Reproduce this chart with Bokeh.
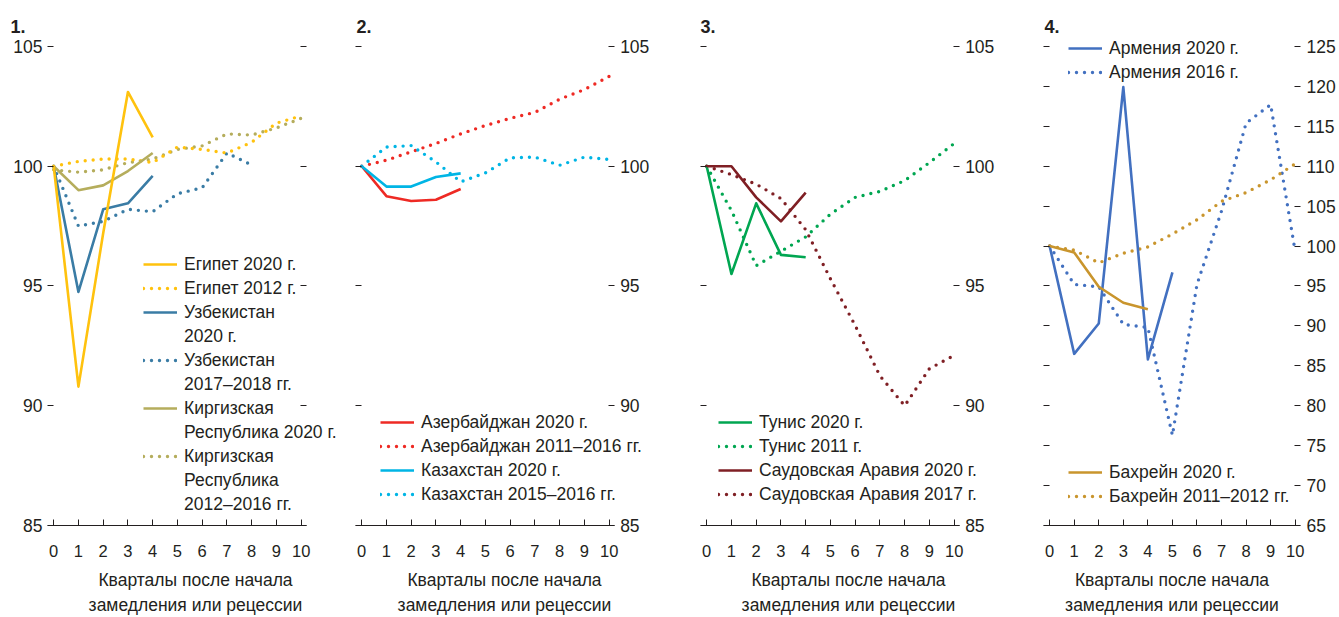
from bokeh.plotting import figure
from bokeh.models import Range1d, LinearAxis, FixedTicker, Legend, LegendItem
from bokeh.layouts import row
from bokeh.embed import file_html
from bokeh.resources import INLINE

# ---------------- data ----------------
quarters = list(range(11))

egypt_2020 = [100, 90.8, 97.2, 103.1, 101.2]
egypt_2012 = [100, 100.2, 100.3, 100.3, 100.15, 100.8, 100.7, 100.55, 101.0, 101.8, 102.1]
uzb_2020 = [100, 94.75, 98.2, 98.45, 99.6]
uzb_2017 = [100, 97.5, 97.7, 98.2, 98.1, 98.85, 99.1, 100.55, 100.05]
kgz_2020 = [100, 99.0, 99.2, 99.8, 100.55]
kgz_2012 = [99.85, 99.75, 99.85, 100.15, 100.3, 100.7, 100.85, 101.35, 101.3, 101.6, 102.0]

aze_2020 = [100, 98.75, 98.55, 98.6, 99.05]
aze_2011 = [100, 100.25, 100.6, 100.95, 101.35, 101.7, 102.0, 102.25, 102.8, 103.2, 103.75]
kaz_2020 = [100, 99.15, 99.15, 99.55, 99.7]
kaz_2015 = [100, 100.8, 100.86, 100.18, 99.35, 99.72, 100.35, 100.38, 100.04, 100.38, 100.28]

tun_2020 = [100, 95.5, 98.45, 96.3, 96.2]
tun_2011 = [100, 98.15, 95.85, 96.45, 97.05, 98.0, 98.7, 98.95, 99.4, 100.15, 100.95]
sau_2020 = [100, 100, 98.7, 97.7, 98.9]
sau_2017 = [100, 99.65, 99.25, 98.65, 97.35, 95.3, 93.35, 91.25, 90.0, 91.55, 92.1]

arm_2020 = [100, 86.5, 90.3, 119.9, 85.8, 96.7]
arm_2016 = [100, 95.2, 94.9, 90.2, 89.8, 76.3, 95.2, 104.4, 115.4, 117.7, 99.3]
bah_2020 = [100, 99.2, 94.9, 92.9, 92.1]
bah_2011 = [100, 99.5, 97.9, 99.1, 99.9, 101.5, 103.3, 105.6, 106.7, 108.3, 110.3]

x_ticks = list(range(11))
y_ticks_main = [85, 90, 95, 100, 105]
y_ticks_p4 = [65, 70, 75, 80, 85, 90, 95, 100, 105, 110, 115, 120, 125]

x_title = "Кварталы после начала\nзамедления или рецессии"

# ---------------- style ----------------
FONT = "Liberation Sans"
TXT = "#231F20"
FS = "17.5px"
FS_X = "16.5px"

X0 = -0.25        # left end of the x axis
X1 = 10.2         # right end of the x axis
PX = 24.75        # pixels per quarter
AXIS_TOP = 46     # page y of the highest y tick
AXIS_H = 481      # pixels between the lowest and the highest y tick
E_TOP = 14        # spare pixels above the top tick
E_BOT = 7         # spare pixels below the bottom tick
H = 617
ROW = 24          # legend row pitch

C_EGY = "#FFC20E"
C_UZB = "#3A7CA5"
C_KGZ = "#B5AD5C"
C_AZE = "#EE2A24"
C_KAZ = "#00B5E5"
C_TUN = "#00A651"
C_SAU = "#7F1F24"
C_ARM = "#4270C0"
C_BAH = "#C9952D"


def style_yaxis(ax, ticks, show_labels, standoff):
    ax.ticker = FixedTicker(ticks=ticks)
    ax.axis_line_color = None
    ax.major_tick_in = 6
    ax.major_tick_out = 0
    ax.major_tick_line_color = TXT
    ax.minor_tick_line_color = None
    ax.major_label_text_font = FONT
    ax.major_label_text_font_size = FS
    ax.major_label_text_color = TXT
    ax.major_label_standoff = standoff
    if not show_labels:
        ax.major_label_overrides = {t: "" for t in ticks}


def make_panel(title, width, bl, br, ymin, ymax, yticks, labels_left,
               title_offset, right_fixed=True):
    fw = width - bl - br
    ppu = AXIS_H / (ymax - ymin)
    top_border = AXIS_TOP - E_TOP
    bottom_border = H - top_border - (AXIS_H + E_TOP + E_BOT)
    p = figure(width=width, height=H,
               x_range=Range1d(X0, X0 + fw / PX),
               y_range=Range1d(ymin - E_BOT / ppu, ymax + E_TOP / ppu),
               output_backend="svg", toolbar_location=None,
               min_border_left=bl, min_border_right=br,
               min_border_top=top_border, min_border_bottom=bottom_border)
    p.outline_line_color = None
    p.grid.visible = False
    p.background_fill_color = "white"
    p.border_fill_color = "white"
    p.title.text = title
    p.title.text_font = FONT
    p.title.text_font_size = "18px"
    p.title.text_font_style = "bold"
    p.title.text_color = TXT
    p.title.align = "left"
    p.title.offset = title_offset
    p.title.standoff = 0

    # axis carrying the tick labels and the title (at the frame bottom)
    xa = p.xaxis[0]
    xa.ticker = FixedTicker(ticks=x_ticks)
    xa.axis_line_color = None
    xa.major_tick_line_color = None
    xa.minor_tick_line_color = None
    xa.major_label_text_font = FONT
    xa.major_label_text_font_size = FS_X
    xa.major_label_text_color = TXT
    xa.major_label_standoff = 6
    xa.axis_label = x_title
    xa.axis_label_text_font = FONT
    xa.axis_label_text_font_size = FS
    xa.axis_label_text_font_style = "normal"
    xa.axis_label_text_color = TXT
    xa.axis_label_text_line_height = 1.25
    xa.axis_label_standoff = 10

    # axis line and tick marks at the lowest y value
    xl = LinearAxis(fixed_location=ymin, bounds=(X0, X1),
                    ticker=FixedTicker(ticks=x_ticks))
    xl.axis_line_color = TXT
    xl.axis_line_width = 1
    xl.major_tick_in = 6
    xl.major_tick_out = 0
    xl.major_tick_line_color = TXT
    xl.minor_tick_line_color = None
    xl.major_label_overrides = {t: "" for t in x_ticks}
    xl.major_label_standoff = 0
    xl.major_label_text_font_size = "1px"
    p.add_layout(xl, "below")

    style_yaxis(p.yaxis[0], yticks, labels_left, 5)
    if right_fixed:
        ra = LinearAxis(fixed_location=X1)
    else:
        ra = LinearAxis()
    p.add_layout(ra, "right")
    style_yaxis(ra, yticks, not labels_left, 6)
    return p


def solid(p, xs, ys, color):
    return p.line(xs, ys, line_color=color, line_width=2.6, line_join="round")


def dotted(p, xs, ys, color):
    return p.line(xs, ys, line_color=color, line_width=3.4, line_dash="0 8",
                  line_cap="round", line_join="round")


def add_legend(p, entries, vx, first_row_y):
    items = []
    for label, rend in entries:
        lines = label.split("\n")
        items.append(LegendItem(label=lines[0], renderers=[rend]))
        for extra in lines[1:]:
            dummy = p.line(x=[], y=[], line_alpha=0)
            items.append(LegendItem(label=extra, renderers=[dummy]))
    top = first_row_y + 1.5 - ROW / 2
    bottom = top + ROW * len(items)
    frame_bottom = AXIS_TOP + AXIS_H + E_BOT
    lg = Legend(items=items, location=(vx, round(frame_bottom - bottom)))
    lg.label_text_font = FONT
    lg.label_text_font_size = FS
    lg.label_text_color = TXT
    lg.label_text_line_height = 1.0
    lg.label_height = ROW
    lg.glyph_height = ROW
    lg.glyph_width = 34
    lg.label_standoff = 7
    lg.spacing = 0
    lg.padding = 0
    lg.margin = 0
    lg.border_line_color = None
    lg.background_fill_alpha = 0
    p.add_layout(lg)
    return lg


# ---------------- panel 1 ----------------
p1 = make_panel("1.", 348, 47, 5, 85, 105, y_ticks_main, True, -37)
r_uzb17 = dotted(p1, quarters[:len(uzb_2017)], uzb_2017, C_UZB)
r_kgz12 = dotted(p1, quarters, kgz_2012, C_KGZ)
r_egy12 = dotted(p1, quarters, egypt_2012, C_EGY)
r_uzb20 = solid(p1, quarters[:len(uzb_2020)], uzb_2020, C_UZB)
r_kgz20 = solid(p1, quarters[:len(kgz_2020)], kgz_2020, C_KGZ)
r_egy20 = solid(p1, quarters[:len(egypt_2020)], egypt_2020, C_EGY)
add_legend(p1, [
    ("Египет 2020 г.", r_egy20),
    ("Египет 2012 г.", r_egy12),
    ("Узбекистан\n2020 г.", r_uzb20),
    ("Узбекистан\n2017–2018 гг.", r_uzb17),
    ("Киргизская\nРеспублика 2020 г.", r_kgz20),
    ("Киргизская\nРеспублика\n2012–2016 гг.", r_kgz12),
], 96, 265)

# ---------------- panel 2 ----------------
p2 = make_panel("2.", 345, 7, 40, 85, 105, y_ticks_main, False, 1)
r_aze11 = dotted(p2, quarters, aze_2011, C_AZE)
r_kaz15 = dotted(p2, quarters, kaz_2015, C_KAZ)
r_aze20 = solid(p2, quarters[:len(aze_2020)], aze_2020, C_AZE)
r_kaz20 = solid(p2, quarters[:len(kaz_2020)], kaz_2020, C_KAZ)
add_legend(p2, [
    ("Азербайджан 2020 г.", r_aze20),
    ("Азербайджан 2011–2016 гг.", r_aze11),
    ("Казахстан 2020 г.", r_kaz20),
    ("Казахстан 2015–2016 гг.", r_kaz15),
], 25, 422)

# ---------------- panel 3 ----------------
p3 = make_panel("3.", 343, 7, 40, 85, 105, y_ticks_main, False, 0)
r_tun11 = dotted(p3, quarters, tun_2011, C_TUN)
r_sau17 = dotted(p3, quarters, sau_2017, C_SAU)
r_tun20 = solid(p3, quarters[:len(tun_2020)], tun_2020, C_TUN)
r_sau20 = solid(p3, quarters[:len(sau_2020)], sau_2020, C_SAU)
add_legend(p3, [
    ("Тунис 2020 г.", r_tun20),
    ("Тунис 2011 г.", r_tun11),
    ("Саудовская Аравия 2020 г.", r_sau20),
    ("Саудовская Аравия 2017 г.", r_sau17),
], 18, 422)

# ---------------- panel 4 ----------------
p4 = make_panel("4.", 302, 7, 36, 65, 125, y_ticks_p4, False, 1, right_fixed=False)
r_arm16 = dotted(p4, quarters, arm_2016, C_ARM)
r_bah11 = dotted(p4, quarters, bah_2011, C_BAH)
r_arm20 = solid(p4, quarters[:len(arm_2020)], arm_2020, C_ARM)
r_bah20 = solid(p4, quarters[:len(bah_2020)], bah_2020, C_BAH)
add_legend(p4, [
    ("Армения 2020 г.", r_arm20),
    ("Армения 2016 г.", r_arm16),
], 25, 48)
add_legend(p4, [
    ("Бахрейн 2020 г.", r_bah20),
    ("Бахрейн 2011–2012 гг.", r_bah11),
], 25, 472)

layout = row(p1, p2, p3, p4, spacing=0)
open("out.html", "w").write(file_html(layout, INLINE))
